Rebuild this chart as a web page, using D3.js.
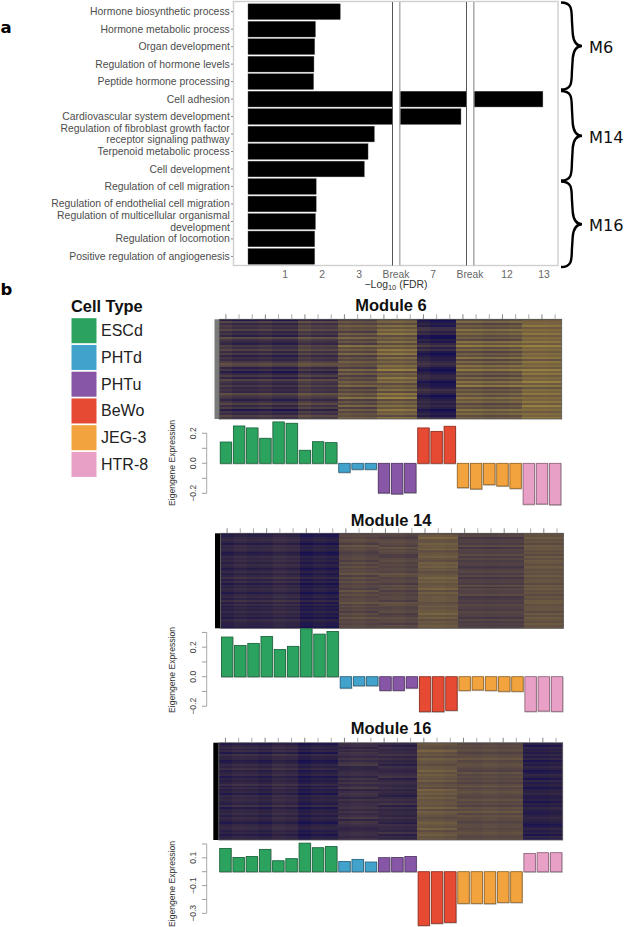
<!DOCTYPE html>
<html><head><meta charset="utf-8">
<script src="https://cdn.jsdelivr.net/npm/d3@7"></script>
<style>html,body{margin:0;padding:0;background:#fff}svg{display:block}</style>
</head><body><svg id="c" width="625" height="927" xmlns="http://www.w3.org/2000/svg"></svg>
<script>
// ---------- Panel a data ----------
const terms = [
  ["Hormone biosynthetic process"],["Hormone metabolic process"],["Organ development"],
  ["Regulation of hormone levels"],["Peptide hormone processing"],["Cell adhesion"],
  ["Cardiovascular system development"],["Regulation of fibroblast growth factor","receptor signaling pathway"],
  ["Terpenoid metabolic process"],["Cell development"],["Regulation of cell migration"],
  ["Regulation of endothelial cell migration"],["Regulation of multicellular organismal","development"],
  ["Regulation of locomotion"],["Positive regulation of angiogenesis"]];
const fdr = [2.49,1.82,1.80,1.78,1.77,12.97,7.75,3.41,3.24,3.14,1.84,1.84,1.82,1.80,1.80];
const xTickLabels = ["1","2","3","Break","7","Break","12","13"];
const braceLabels = ["M6","M14","M16"];
// ---------- Panel b data ----------
const cellTypes = ["ESCd","PHTd","PHTu","BeWo","JEG-3","HTR-8"];
const cellColors = ["#2BA35F","#41A2CC","#8756A6","#E64A33","#F2A33D","#E8A0C6"];
const cellCounts = [9,3,3,3,5,3];
const m6Eigen = [.142,.249,.236,.167,.276,.267,.087,.144,.138,-.06,-.04,-.04,-.198,-.204,-.196,.236,.213,.247,-.162,-.171,-.142,-.151,-.167,-.273,-.271,-.276];
const m14Eigen = [.269,.212,.226,.273,.185,.206,.325,.289,.307,-.077,-.061,-.061,-.093,-.093,-.077,-.237,-.237,-.228,-.093,-.09,-.093,-.099,-.099,-.235,-.233,-.235];
const m16Eigen = [.168,.103,.110,.161,.079,.094,.206,.173,.182,.074,.089,.07,.101,.103,.11,-.387,-.372,-.365,-.228,-.228,-.23,-.221,-.221,.132,.137,.137];
// mean heat level of every sample column (0 navy .. 10 yellow)
const m6Levels = [3.5,3.0,3.0,3.3,2.8,2.8,4.2,3.7,3.6,5.3,5.1,4.9,6.2,6.3,6.1,2.9,2.4,2.4,5.9,5.8,5.5,5.6,5.8,6.8,6.8,6.7];
const m14Levels = [2.2,2.6,2.3,2.4,2.8,2.6,1.6,1.9,1.7,4.8,5.0,4.7,4.8,4.9,4.6,6.0,6.1,5.9,4.3,4.3,4.2,4.3,4.3,5.7,5.8,5.7];
const m16Levels = [2.1,2.5,2.4,2.1,2.7,2.5,1.6,2.0,1.9,2.9,3.1,3.0,2.7,2.6,2.5,6.0,5.9,5.7,5.1,5.0,5.2,5.0,5.1,1.9,1.9,2.1];
// row stripes per cell type (digit 0 dark .. 9 light; 4 = mean)
const m6Stripes = [
  "16354634274325463524357624135264353437542463514364",
  "25364526373528463725364527362536472536482537263546",
  "35263647253626374726353648253746253627482536374526",
  "12325534113246352123345421234431223543123434312325",
  "36253746352748362537263748352637482536374625374635",
  "34463546354637453546264537463547362546354637453546"];
const m14Stripes = [
  "23454254642354535423534635243542453635243534254342",
  "34354264532344253534462535344263534463534253634344",
  "43245436354224534344365344253524344265434523544254",
  "24633544623453254534234645344625344423534463524354",
  "45244362544635344234535244362544623435443544253434",
  "43534254534253543543435344253534243553444253543534"];
const m16Stripes = [
  "24535264423546345243462534254543624453543245534244",
  "44253543535622344253534624542534453534625543234434",
  "42534463534254345624543534324546253443534254436243",
  "43246342543244635435234264535344362543234543624534",
  "34354244634543253434246345433534254635442344345434",
  "42534353524354235425344244533424354334544323534253"];

// ---------- layout ----------
const svg = d3.select("#c");
const sans = "'Liberation Sans',Arial,sans-serif", dj = "'DejaVu Sans',sans-serif";
const defs = svg.append("defs");
defs.append("filter").attr("id","soft").attr("color-interpolation-filters","sRGB")
  .append("feGaussianBlur").attr("stdDeviation",0.4);

// Panel a
const gA = svg.append("g");
gA.append("rect").attr("x",233.5).attr("y",1.5).attr("width",324.5).attr("height",264)
  .attr("fill","#fff").attr("stroke","#cfcfcf").attr("stroke-width",1.4);
const x = d3.scaleLinear().domain([0,3.9,6.1,7.9,11.1,13]).range([248,392.5,400,466.5,473.5,544]);
const xPos = d3.scaleLinear().domain([0,8]).range([248,544]);
const y = d3.scaleBand().domain(d3.range(terms.length)).range([3.3,264.8]).paddingInner(0.1).paddingOuter(0.03);
gA.selectAll("rect.bar").data(fdr).join("rect").attr("class","bar")
  .attr("x",x(0)).attr("y",(d,i)=>y(i)).attr("width",d=>x(d)-x(0)).attr("height",y.bandwidth())
  .attr("fill","#000").attr("stroke","#555").attr("stroke-width",0.4);
gA.append("rect").attr("x",392.5).attr("y",2.2).attr("width",7).attr("height",263).attr("fill","#fff");
gA.append("rect").attr("x",466.5).attr("y",2.2).attr("width",7).attr("height",263).attr("fill","#fff");
[[392.5,"#555",1],[399.8,"#b0b0b0",1.5],[466.5,"#555",1],[473.8,"#a8a8a8",1.5]].forEach(l=>{
  gA.append("line").attr("x1",l[0]).attr("x2",l[0]).attr("y1",2).attr("y2",265.5).attr("stroke",l[1]).attr("stroke-width",l[2]);
});
terms.forEach((t,i)=>{
  const cy = y(i)+y.bandwidth()/2;
  gA.append("line").attr("x1",231).attr("x2",233).attr("y1",cy).attr("y2",cy).attr("stroke","#666").attr("stroke-width",.8);
  t.forEach((s,k)=>{
    gA.append("text").attr("x",229.8).attr("y",cy+3.5+(k-(t.length-1)/2)*11.6)
      .attr("text-anchor","end").attr("font-family",sans).attr("font-size",10.4).attr("fill","#4d4d4d").text(s);
  });
});
xTickLabels.forEach((s,i)=>{
  const px = xPos(i+1);
  gA.append("text").attr("x",px).attr("y",277.5).attr("text-anchor","middle").attr("font-family",sans)
    .attr("font-size",10.3).attr("fill","#666").text(s);
});
const xt = gA.append("text").attr("x",396).attr("y",288).attr("text-anchor","middle").attr("font-family",sans).attr("font-size",10.4).attr("fill","#333");
xt.append("tspan").text("\u2212Log");
xt.append("tspan").attr("font-size",7.5).attr("dy",2).text("10");
xt.append("tspan").attr("dy",-2).text(" (FDR)");

// braces
function brace(x0,y0,y1,tip){
  const ym=(y0+y1)/2, w=tip-x0, p=d3.path();
  p.moveTo(x0,y0);
  p.bezierCurveTo(x0+w*.55,y0,x0+w*.5,y0+8,x0+w*.52,y0+18);
  p.lineTo(x0+w*.56,ym-12);
  p.bezierCurveTo(x0+w*.6,ym-4,x0+w*.75,ym,tip,ym);
  p.bezierCurveTo(x0+w*.75,ym,x0+w*.6,ym+4,x0+w*.56,ym+12);
  p.lineTo(x0+w*.52,y1-18);
  p.bezierCurveTo(x0+w*.5,y1-8,x0+w*.55,y1,x0,y1);
  return p.toString();
}
[[2.5,89.5],[91,180.5],[181.5,267]].forEach((b,i)=>{
  gA.append("path").attr("d",brace(561,b[0],b[1],582)).attr("fill","none").attr("stroke","#000").attr("stroke-width",2.4);
  gA.append("text").attr("x",589).attr("y",(b[0]+b[1])/2+7).attr("font-family",dj).attr("font-size",16.2).attr("fill","#111").text(braceLabels[i]);
});
// panel letters
svg.append("text").attr("x",0.5).attr("y",33).attr("font-family",dj).attr("font-weight","bold").attr("font-size",16.5).text("a");
svg.append("text").attr("x",0.5).attr("y",295).attr("font-family",dj).attr("font-weight","bold").attr("font-size",16.5).text("b");

// legend
svg.append("text").attr("x",71).attr("y",311.5).attr("font-family",sans).attr("font-weight","bold").attr("font-size",16.4).attr("fill","#111").text("Cell Type");
cellTypes.forEach((c,i)=>{
  const yy=318.2+i*26.75;
  svg.append("rect").attr("x",71.5).attr("y",yy).attr("width",25).attr("height",25).attr("fill",cellColors[i]);
  svg.append("text").attr("x",101).attr("y",yy+18).attr("font-family",sans).attr("font-size",16).attr("fill","#222").text(c);
});

// modules
const heatColor = d3.scaleLinear().domain([0,1,2,3,4,6,8,10])
  .range(["#0c0850","#1a1350","#2d2244","#3c2e46","#4c3d44","#6a5741","#8b763f","#ab963b"]).clamp(true);
const colType = cellCounts.flatMap((n,i)=>Array(n).fill(i));
const modules = [
 {title:"Module 6",tx:391,ty:310.7,hx0:219.3,hx1:561.7,hy0:319.3,hy1:419,side:214.5,sideFill:"#7a7a7a",amp:.6,
  levels:m6Levels,stripes:m6Stripes,eigen:m6Eigen,y0:463.3,scale:150,ticks:[.2,.1,0,-.1,-.2],labels:[.2,0,-.2],ylabel:463},
 {title:"Module 14",tx:391,ty:525.7,hx0:220.5,hx1:563.6,hy0:533.3,hy1:628.3,side:215,sideFill:"#000",amp:.4,
  levels:m14Levels,stripes:m14Stripes,eigen:m14Eigen,y0:676.7,scale:147.5,ticks:[.3,.2,.1,0,-.1,-.2],labels:[.2,0,-.2],ylabel:670},
 {title:"Module 16",tx:391,ty:734.3,hx0:218.8,hx1:562.7,hy0:742.7,hy1:840,side:213.3,sideFill:"#000",amp:.4,
  levels:m16Levels,stripes:m16Stripes,eigen:m16Eigen,y0:871.7,scale:138.8,ticks:[.2,.1,0,-.1,-.2,-.3],labels:[.1,-.1,-.3],ylabel:884}
];
modules.forEach(m=>{
  const g=svg.append("g");
  g.append("text").attr("x",m.tx).attr("y",m.ty).attr("text-anchor","middle").attr("font-family",sans)
    .attr("font-weight","bold").attr("font-size",16.5).attr("fill","#111").text(m.title);
  const cx=d3.scaleBand().domain(d3.range(26)).range([m.hx0,m.hx1]);
  const nRows=m.stripes[0].length;
  const ry=d3.scaleBand().domain(d3.range(nRows)).range([m.hy0,m.hy1]);
  const heat=g.append("g").attr("filter","url(#soft)").attr("shape-rendering","crispEdges");
  m.levels.forEach((lv,j)=>{
    const s=m.stripes[colType[j]];
    heat.selectAll(null).data(d3.range(nRows)).join("rect")
      .attr("x",cx(j)).attr("y",r=>ry(r)).attr("width",cx.bandwidth()+1).attr("height",ry.bandwidth()+1)
      .attr("fill",r=>heatColor(lv+(+s[r]-4)*m.amp));
  });
  g.append("rect").attr("x",m.hx1).attr("y",m.hy0-1).attr("width",3).attr("height",m.hy1-m.hy0+3).attr("fill","#fff");
  g.append("rect").attr("x",m.hx0).attr("y",m.hy1).attr("width",m.hx1-m.hx0+3).attr("height",2).attr("fill","#fff");
  g.append("rect").attr("x",m.side).attr("y",m.hy0).attr("width",m.hx0-m.side).attr("height",m.hy1-m.hy0).attr("fill",m.sideFill);
  g.append("rect").attr("x",m.hx0).attr("y",m.hy0).attr("width",m.hx1-m.hx0).attr("height",m.hy1-m.hy0)
    .attr("fill","none").attr("stroke","#555").attr("stroke-width",.8);
  d3.range(26).forEach(j=>{
    const px=cx(j)+cx.bandwidth()/2;
    g.append("line").attr("x1",px).attr("x2",px).attr("y1",m.hy0-5).attr("y2",m.hy0).attr("stroke",j%3==0?"#666":"#999").attr("stroke-width",.8);
  });
  // bars
  const by=v=>m.y0-v*m.scale;
  const bw=cx.bandwidth();
  m.eigen.forEach((v,j)=>{
    const top=Math.min(by(v),m.y0), h=Math.abs(by(v)-m.y0), c=cellColors[colType[j]];
    g.append("rect").attr("x",cx(j)+1.2).attr("y",top+.6).attr("width",bw-1.8).attr("height",h).attr("fill","none").attr("stroke","#aaa").attr("stroke-width",1);
    g.append("rect").attr("x",cx(j)+.9).attr("y",top).attr("width",bw-1.8).attr("height",h).attr("fill",c)
      .attr("stroke",d3.color(c).darker(1.4)).attr("stroke-width",.8);
  });
  // axis
  const ext=d3.extent(m.ticks);
  g.append("line").attr("x1",206.7).attr("x2",206.7).attr("y1",by(ext[0])).attr("y2",by(ext[1])).attr("stroke","#aaa").attr("stroke-width",1);
  m.ticks.forEach(t=>{
    g.append("line").attr("x1",202).attr("x2",206.7).attr("y1",by(t)).attr("y2",by(t)).attr("stroke","#888").attr("stroke-width",.8);
  });
  m.labels.forEach(t=>{
    g.append("text").attr("transform",`translate(195.5,${by(t)}) rotate(-90)`).attr("text-anchor","middle")
      .attr("font-family",sans).attr("font-size",8.6).attr("fill","#444").text(d3.format(".1f")(t).replace("-","\u2212"));
  });
  g.append("text").attr("transform",`translate(175,${m.ylabel}) rotate(-90)`).attr("text-anchor","middle")
    .attr("font-family",sans).attr("font-size",8.6).attr("fill","#333").text("Eigengene Expression");
});
</script></body></html>
